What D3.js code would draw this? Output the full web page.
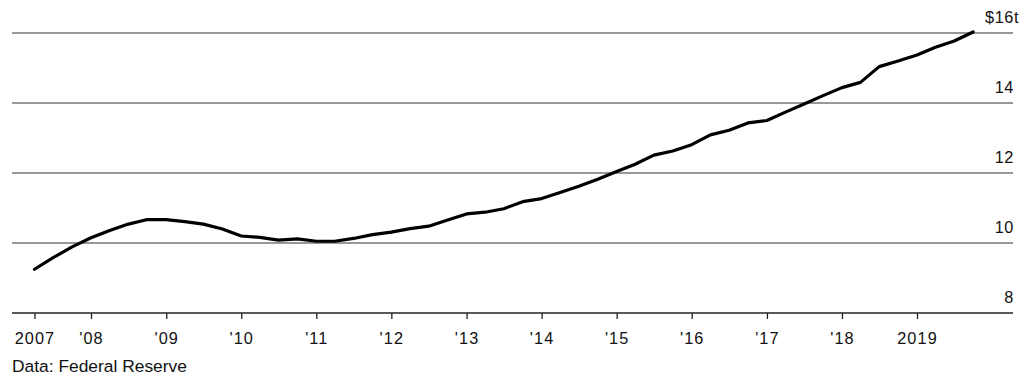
<!DOCTYPE html>
<html>
<head>
<meta charset="utf-8">
<script src="https://cdn.jsdelivr.net/npm/d3@7"></script>
<style>
  html, body { margin: 0; padding: 0; background: #fff; }
  svg { display: block; }
  text { font-family: "Liberation Sans", Arial, Helvetica, sans-serif; fill: #111; }
</style>
</head>
<body>
<svg id="chart" width="1028" height="377"></svg>
<script>
// Quarterly observations, debt outstanding in trillions of dollars
const quarters = [
  "2007-04-01","2007-07-01","2007-10-01",
  "2008-01-01","2008-04-01","2008-07-01","2008-10-01",
  "2009-01-01","2009-04-01","2009-07-01","2009-10-01",
  "2010-01-01","2010-04-01","2010-07-01","2010-10-01",
  "2011-01-01","2011-04-01","2011-07-01","2011-10-01",
  "2012-01-01","2012-04-01","2012-07-01","2012-10-01",
  "2013-01-01","2013-04-01","2013-07-01","2013-10-01",
  "2014-01-01","2014-04-01","2014-07-01","2014-10-01",
  "2015-01-01","2015-04-01","2015-07-01","2015-10-01",
  "2016-01-01","2016-04-01","2016-07-01","2016-10-01",
  "2017-01-01","2017-04-01","2017-07-01","2017-10-01",
  "2018-01-01","2018-04-01","2018-07-01","2018-10-01",
  "2019-01-01","2019-04-01","2019-07-01","2019-10-01"
];
const debt = [
  9.25, 9.58, 9.89,
  10.15, 10.36, 10.54, 10.67,
  10.67, 10.61, 10.54, 10.40,
  10.20, 10.16, 10.08, 10.12,
  10.05, 10.05, 10.13, 10.24,
  10.31, 10.41, 10.48, 10.66,
  10.83, 10.88, 10.98, 11.18,
  11.27, 11.44, 11.62, 11.82,
  12.04, 12.25, 12.51, 12.63,
  12.81, 13.09, 13.22, 13.43,
  13.50, 13.74, 13.97, 14.21,
  14.44, 14.59, 15.04, 15.20,
  15.37, 15.59, 15.77, 16.03
];

// Axis ticks
const xTickDates = ["2007-04-01","2008-01-01","2009-01-01","2010-01-01","2011-01-01","2012-01-01",
                    "2013-01-01","2014-01-01","2015-01-01","2016-01-01","2017-01-01","2018-01-01","2019-01-01"];
const xTickLabels = ["2007","'08","'09","'10","'11","'12","'13","'14","'15","'16","'17","'18","2019"];
const yTicks = [8, 10, 12, 14, 16];
const yTickLabels = ["8", "10", "12", "14", "$16"];

const source = "Data: Federal Reserve";

const parse = d3.utcParse("%Y-%m-%d");
const series = quarters.map((q, i) => ({ date: parse(q), value: debt[i] }));

const svg = d3.select("#chart");
const left = 12, right = 1013;

const x = d3.scaleUtc()
  .domain([parse("2008-01-01"), parse("2019-01-01")])
  .range([91, 917]);

const y = d3.scaleLinear()
  .domain([8, 16])
  .range([313, 33]);

// Horizontal gridlines
svg.append("g")
  .selectAll("line")
  .data(yTicks.filter(v => v > 8))
  .join("line")
  .attr("x1", left).attr("x2", right)
  .attr("y1", d => y(d)).attr("y2", d => y(d))
  .attr("stroke", "#333")
  .attr("stroke-width", 1.2);

// Right-side value labels, sitting above their gridlines
const yLab = svg.append("g")
  .attr("font-size", 16.3)
  .attr("letter-spacing", "0.6px");
yLab.selectAll("text")
  .data(yTicks)
  .join("text")
  .attr("x", right + 1)
  .attr("y", d => y(d) - 10)
  .attr("text-anchor", "end")
  .text((d, i) => yTickLabels[i]);
yLab.append("text")
  .attr("x", right + 1)
  .attr("y", y(16) - 10)
  .text("t");

// Bottom axis
const xAxis = d3.axisBottom(x)
  .tickValues(xTickDates.map(parse))
  .tickSize(6)
  .tickFormat((d, i) => xTickLabels[i]);

const gx = svg.append("g")
  .attr("transform", `translate(0,${y(8)})`)
  .call(xAxis);
gx.select(".domain").remove();
gx.insert("line", ":first-child")
  .attr("x1", left).attr("x2", right)
  .attr("stroke", "#222").attr("stroke-width", 1.3);
gx.selectAll(".tick line").attr("stroke", "#222").attr("stroke-width", 1.3);
gx.selectAll(".tick text")
  .attr("y", 31)
  .attr("dy", 0)
  .attr("font-size", 16.3)
  .attr("letter-spacing", "1.1px")
  .attr("font-family", "'Liberation Sans', Arial, sans-serif")
  .attr("fill", "#111");

// The debt line
const line = d3.line()
  .x(d => x(d.date))
  .y(d => y(d.value));

svg.append("path")
  .datum(series)
  .attr("d", line)
  .attr("fill", "none")
  .attr("stroke", "#000")
  .attr("stroke-width", 3.2)
  .attr("stroke-linejoin", "round")
  .attr("stroke-linecap", "round");

// Source note
svg.append("text")
  .attr("x", left)
  .attr("y", 372)
  .attr("font-size", 17.4)
  .text(source);
</script>
</body>
</html>
